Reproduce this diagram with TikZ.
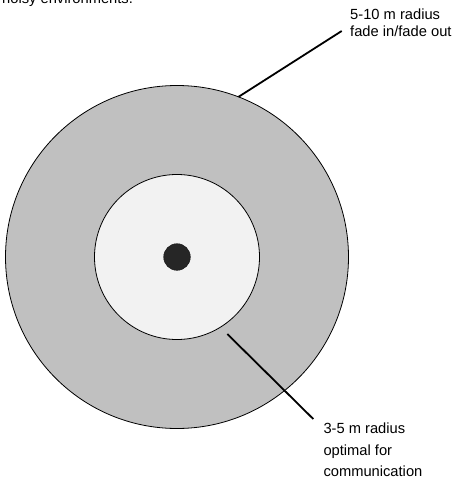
\documentclass[tikz,border=0pt]{standalone}
\usepackage{fontspec}
\setmainfont{Liberation Sans}
\usetikzlibrary{positioning}
\definecolor{RingGray}{HTML}{C0C0C0}
\definecolor{CoreGray}{HTML}{F2F2F2}
\definecolor{DotBlack}{HTML}{262626}

\tikzset{
  zone/.style={circle, draw=black, line width=0.8pt, inner sep=0pt, outer sep=0pt},
  leader/.style={draw=black, line width=1.8pt},
  lbl/.style={anchor=base west, inner sep=0pt, align=left}
}

\begin{document}
\begin{tikzpicture}[x=1pt,y=-1pt]
  \clip (0,0) rectangle (454,482);
  \node[lbl, font=\fontsize{14.7}{17.4}\selectfont] (noisy) at (2,3) {noisy environments.};

  \node[zone, fill=RingGray, minimum size=343pt] (outer) at (177,257) {};
  \node[zone, fill=CoreGray, minimum size=165pt] (inner) at (177,257) {};
  \node[circle, fill=DotBlack, draw=black!90, line width=0.5pt, inner sep=0pt, minimum size=26.6pt] (src) at (177,257) {};

  \node[lbl, font=\fontsize{14.7}{17.4}\selectfont] (fadelbl) at (350,36.7) {5-10 m radius\\fade in/fade out};
  \node[lbl, font=\fontsize{14.7}{21.7}\selectfont] (optlbl) at (323.3,476.7) {3-5 m radius\\optimal for\\communication};

  \coordinate (fadeend) at (341.7,31);
  \coordinate (optstart) at (227.3,334);
  \coordinate (optend) at (313.3,419);

  \draw[leader] (outer.69) -- (fadeend);
  \draw[leader] (optstart) -- (optend);
\end{tikzpicture}
\end{document}
